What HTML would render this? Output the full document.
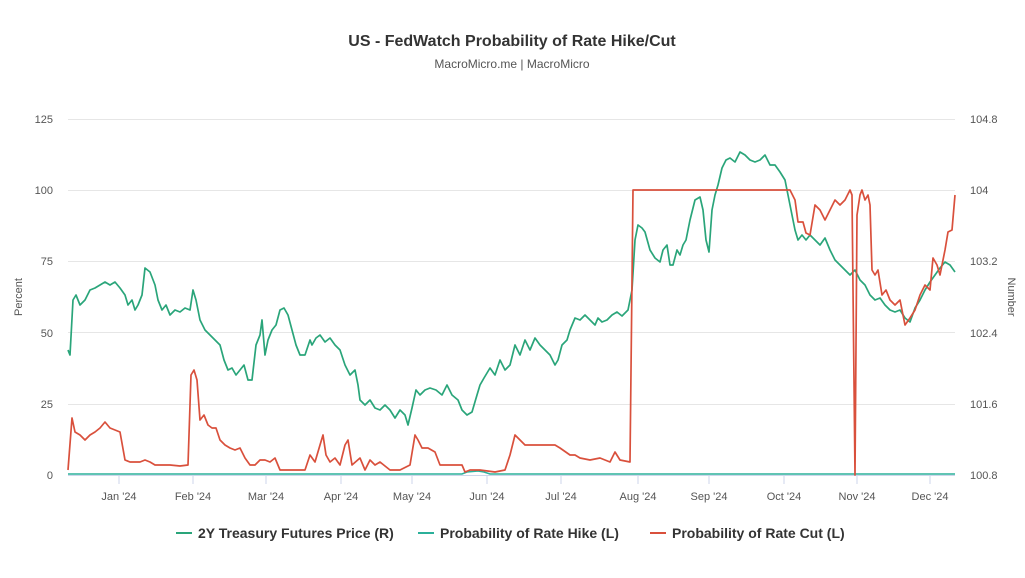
<!DOCTYPE html><html><head><meta charset="utf-8"><style>
body{margin:0;background:#fff;font-family:"Liberation Sans",sans-serif}
</style></head><body>
<svg width="1025" height="573" xmlns="http://www.w3.org/2000/svg" font-family="Liberation Sans, sans-serif">
<rect width="1025" height="573" fill="#fff"/>
<text x="512" y="46" text-anchor="middle" font-size="16" font-weight="bold" fill="#333">US - FedWatch Probability of Rate Hike/Cut</text>
<text x="512" y="68" text-anchor="middle" font-size="12" fill="#555">MacroMicro.me | MacroMicro</text>
<g stroke="#e6e6e6" stroke-width="1">
<line x1="68" x2="955" y1="119.5" y2="119.5"/><line x1="68" x2="955" y1="190.5" y2="190.5"/><line x1="68" x2="955" y1="261.5" y2="261.5"/><line x1="68" x2="955" y1="332.5" y2="332.5"/><line x1="68" x2="955" y1="404.5" y2="404.5"/>
</g>
<g font-size="11" fill="#555" text-anchor="end">
<text x="53" y="123">125</text><text x="53" y="194">100</text><text x="53" y="265">75</text><text x="53" y="337">50</text><text x="53" y="408">25</text><text x="53" y="479">0</text>
</g>
<g font-size="11" fill="#555" text-anchor="start">
<text x="970" y="123">104.8</text><text x="970" y="194">104</text><text x="970" y="265">103.2</text><text x="970" y="337">102.4</text><text x="970" y="408">101.6</text><text x="970" y="479">100.8</text>
</g>
<text transform="translate(22,297) rotate(-90)" font-size="11" fill="#555" text-anchor="middle">Percent</text>
<text transform="translate(1008,297) rotate(90)" font-size="11" fill="#555" text-anchor="middle">Number</text>
<g stroke="#ccd6eb"><line x1="68" x2="955" y1="475.5" y2="475.5"/>
<line x1="119" x2="119" y1="476" y2="484"/><line x1="193" x2="193" y1="476" y2="484"/><line x1="266" x2="266" y1="476" y2="484"/><line x1="341" x2="341" y1="476" y2="484"/><line x1="412" x2="412" y1="476" y2="484"/><line x1="487" x2="487" y1="476" y2="484"/><line x1="561" x2="561" y1="476" y2="484"/><line x1="638" x2="638" y1="476" y2="484"/><line x1="709" x2="709" y1="476" y2="484"/><line x1="784" x2="784" y1="476" y2="484"/><line x1="857" x2="857" y1="476" y2="484"/><line x1="930" x2="930" y1="476" y2="484"/></g>
<g font-size="11" fill="#555" text-anchor="middle">
<text x="119" y="500">Jan '24</text><text x="193" y="500">Feb '24</text><text x="266" y="500">Mar '24</text><text x="341" y="500">Apr '24</text><text x="412" y="500">May '24</text><text x="487" y="500">Jun '24</text><text x="561" y="500">Jul '24</text><text x="638" y="500">Aug '24</text><text x="709" y="500">Sep '24</text><text x="784" y="500">Oct '24</text><text x="857" y="500">Nov '24</text><text x="930" y="500">Dec '24</text>
</g>
<polyline fill="none" stroke="#2bb09a" stroke-width="1.6" points="68,474 462,474 467,472 478,471 484,472 490,474 955,474"/>
<polyline fill="none" stroke="#2aa57a" stroke-width="1.7" stroke-linejoin="round" points="68,350 70,355 73,300 76,295 80,305 85,300 90,290 95,288 100,285 105,282 110,285 115,282 120,288 125,295 128,305 132,300 135,310 138,305 142,295 145,268 150,272 155,285 158,300 162,310 166,305 170,315 175,310 180,312 185,308 190,310 193,290 196,300 200,320 205,330 210,335 215,340 220,345 224,360 228,370 232,368 236,375 240,370 244,365 248,380 252,380 256,345 260,335 262,320 265,355 268,340 272,330 276,325 280,310 284,308 288,315 292,330 296,345 300,355 305,355 310,340 312,345 316,338 320,335 325,342 330,338 335,345 340,350 345,365 350,375 355,370 358,385 360,400 365,405 370,400 375,408 380,410 385,405 390,410 395,418 400,410 405,415 408,425 412,408 416,390 420,395 425,390 430,388 436,390 442,395 447,385 452,395 458,400 462,410 467,415 472,412 477,395 480,385 484,378 490,368 495,375 500,360 505,370 510,365 515,345 520,355 525,340 530,350 535,338 540,345 545,350 550,355 555,365 558,360 562,345 567,340 570,330 575,318 580,320 585,315 590,320 595,325 598,318 602,322 607,320 612,315 617,312 622,316 628,310 632,290 635,240 638,225 642,228 645,232 650,250 655,258 660,262 663,250 667,245 670,265 673,265 677,250 680,255 683,245 686,240 690,220 695,200 700,197 703,210 706,240 709,252 712,210 715,195 718,185 722,168 726,160 730,158 735,162 740,152 745,155 750,160 755,162 760,160 765,155 770,165 775,165 780,172 785,180 788,195 791,210 795,230 798,240 802,235 806,240 810,235 815,240 820,245 825,238 830,250 835,260 840,265 845,270 850,275 855,270 860,280 865,285 870,295 875,300 880,298 885,305 890,310 895,312 900,310 905,318 910,322 915,308 920,300 925,290 930,282 935,275 940,268 945,262 950,265 955,272"/>
<polyline fill="none" stroke="#d9503c" stroke-width="1.7" stroke-linejoin="round" points="68,470 72,418 75,432 80,435 85,440 90,435 95,432 100,428 105,422 110,428 115,430 120,432 125,460 130,462 140,462 145,460 150,462 155,465 170,465 180,466 188,465 191,375 194,370 197,380 200,420 204,415 208,425 212,428 216,428 220,440 225,445 230,448 235,450 240,448 245,458 250,465 255,465 260,460 265,460 270,462 275,458 280,470 290,470 305,470 310,455 315,462 320,445 323,435 326,455 330,462 335,458 340,465 345,445 348,440 352,465 360,458 365,470 370,460 375,465 380,462 390,470 400,470 410,465 415,435 418,440 422,448 428,448 435,452 440,465 445,465 462,465 465,472 470,470 480,470 495,472 505,470 510,455 515,435 520,440 525,445 530,445 540,445 555,445 560,448 570,455 575,455 580,458 590,460 600,458 610,462 615,452 620,460 630,462 633,190 790,190 795,200 798,222 803,222 806,233 810,235 815,205 820,210 825,220 830,210 835,200 840,205 845,200 850,190 852,195 855,475 857,215 860,195 862,190 865,200 868,195 870,205 872,270 875,275 878,270 882,295 886,290 890,300 895,305 900,300 905,325 910,318 915,310 920,295 925,285 930,290 933,258 937,265 940,275 945,250 948,232 952,230 955,195"/>
<g font-size="14" font-weight="bold" fill="#333">
<line x1="176" x2="192" y1="533" y2="533" stroke="#2aa57a" stroke-width="2"/><text x="198" y="538">2Y Treasury Futures Price (R)</text>
<line x1="418" x2="434" y1="533" y2="533" stroke="#2bb09a" stroke-width="2"/><text x="440" y="538">Probability of Rate Hike (L)</text>
<line x1="650" x2="666" y1="533" y2="533" stroke="#d9503c" stroke-width="2"/><text x="672" y="538">Probability of Rate Cut (L)</text>
</g>
</svg>
</body></html>
